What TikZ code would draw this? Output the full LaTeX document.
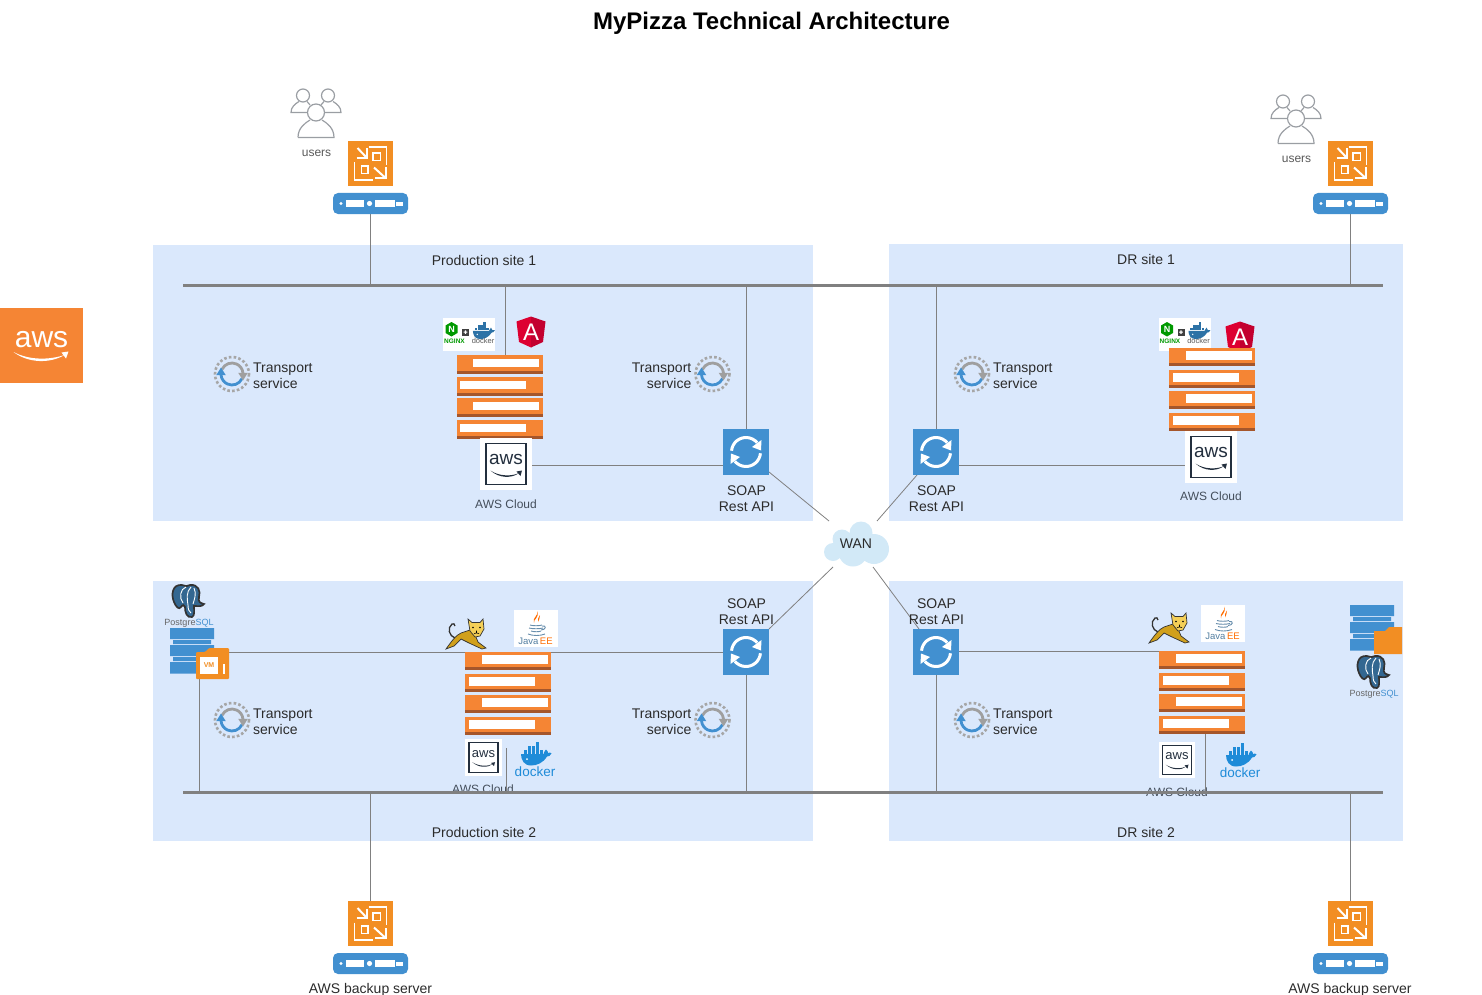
\documentclass[tikz,border=0pt]{standalone}
\usepackage{fontspec}
\setmainfont{Liberation Sans}
\usetikzlibrary{arrows.meta,backgrounds}
\definecolor{panelc}{HTML}{DAE8FC}
\definecolor{linec}{HTML}{808080}
\definecolor{awsor}{HTML}{F58534}
\definecolor{awsdk}{HTML}{A5562B}
\definecolor{boxor}{HTML}{F28E23}
\definecolor{blueic}{HTML}{4290D0}
\definecolor{txt}{HTML}{2B2B2B}
\definecolor{navy}{HTML}{232F3E}
\definecolor{cloudc}{HTML}{D2E9F7}
\definecolor{pgblue}{HTML}{336791}
\definecolor{dockerc}{HTML}{1E8BD8}
\definecolor{usergray}{HTML}{9A9EA3}
\definecolor{ngred}{HTML}{DD0031}
\definecolor{ngdark}{HTML}{C3002F}
\definecolor{catgold}{HTML}{D1A01C}
\definecolor{catface}{HTML}{F4CF57}
\pgfdeclarelayer{panels}
\pgfdeclarelayer{wires}
\pgfsetlayers{panels,wires,main}
\tikzset{
  x=1pt,y=-1pt,
  lbl/.style={font=\fontsize{14}{16}\selectfont,text=txt,align=center,inner sep=0pt},
  smalllbl/.style={font=\fontsize{12}{14}\selectfont,text=navy!85!white,align=center,inner sep=0pt},
  panel/.style={fill=panelc,draw=none},
  wire/.style={draw=linec,line width=1pt},
  bus/.style={draw=linec,line width=3pt},
  iconbox/.style={inner sep=0pt,outer sep=0pt,minimum width=#1,minimum height=#1},
  rfarc/.style={draw=white,line width=3pt},
  whitepen/.style={draw=white,line width=1.2pt},
  whitebold/.style={draw=white,line width=2pt},
  userpen/.style={draw=usergray,line width=1.2pt},
}
% refresh
\newcommand\icRefresh[3]{%
  \node[iconbox=46pt,fill=blueic] (#1) at (#2,#3) {};
  \begin{scope}[shift={(#2,#3)}]
    \draw[rfarc] (185:14.5) arc[start angle=185,end angle=320,radius=14.5];
    \draw[rfarc] (5:14.5) arc[start angle=5,end angle=140,radius=14.5];
    \fill[white] (15.5,-12) -- (15,-1.5) -- (6,-5) -- cycle;
    \fill[white] (-15.5,12) -- (-15,1.5) -- (-6,5) -- cycle;
  \end{scope}}
% transport service ring
\newcommand\icTransport[3]{%
  \node[iconbox=38pt] (#1) at (#2,#3) {};
  \begin{scope}[shift={(#2,#3)}]
    \draw[draw=gray!70,line width=2.6pt,dash pattern=on 2.6pt off 2.2pt] (0,0) circle[radius=17];
    \draw[draw=gray!75,line width=2.8pt] (205:11) arc[start angle=205,end angle=355,radius=11];
    \draw[draw=blueic,line width=2.8pt] (25:11) arc[start angle=25,end angle=175,radius=11];
    \fill[gray!75] (11,6.5) -- (6.2,-1.2) -- (15.8,-1.2) -- cycle;
    \fill[blueic] (-11,-6.5) -- (-6.2,1.2) -- (-15.8,1.2) -- cycle;
  \end{scope}}
% users
\newcommand\icUsers[3]{%
  \node[iconbox=50pt] (#1) at (#2,#3) {};
  \begin{scope}[shift={(#2,#3)}]
    \draw[userpen] (-13,-17.5) circle[radius=6.5];
    \draw[userpen] (12,-17.5) circle[radius=6.5];
    \draw[userpen] (-9,-0.5) -- (-25,-0.5) .. controls (-25,-6) and (-21,-9) .. (-17,-11.5);
    \draw[userpen] (-9,-11.5) .. controls (-8,-10.5) and (-7,-9.5) .. (-6,-8);
    \draw[userpen] (9,-0.5) -- (25,-0.5) .. controls (25,-6) and (21,-9) .. (17,-11.5);
    \draw[userpen] (8,-11.5) .. controls (7,-10.5) and (6,-9.5) .. (5,-8);
    \draw[userpen] (0,-0.5) circle[radius=8.5];
    \draw[userpen] (-18,24.5) -- (18,24.5) .. controls (18,15) and (11,10) .. (6,7);
    \draw[userpen] (-18,24.5) .. controls (-18,15) and (-11,10) .. (-6,7);
  \end{scope}}
% orange storage gateway box
\newcommand\icGate[3]{%
  \node[iconbox=45pt,fill=boxor] (#1) at (#2,#3) {};
  \begin{scope}[shift={(#2,#3)}]
    \draw[whitebold,line width=1.8pt] (2.7,-10.7) rectangle (10,-3);
    \draw[whitebold,line width=1.8pt] (-9,2.7) rectangle (-2.3,10);
    \draw[whitepen] (-2,-16.5) -- (16,-16.5) -- (16,1.5);
    \draw[whitepen] (-16,-1) -- (-16,16.5) -- (2,16.5);
    \draw[whitebold] (-13,-15.5) -- (-4,-6);
    \draw[whitebold] (-14,-5.5) -- (-3.5,-5.5) -- (-3.5,-15);
    \draw[whitebold] (3.5,4) -- (14.5,14);
    \draw[whitebold] (4.5,14.5) -- (15,14.5) -- (15,4);
  \end{scope}}
% blue bar
\newcommand\icBar[3]{%
  \node[inner sep=0pt,outer sep=0pt,minimum width=75pt,minimum height=21pt,fill=blueic,rounded corners=5pt] (#1) at (#2,#3) {};
  \begin{scope}[shift={(#2,#3)}]
    \fill[white] (-29.5,0) circle[radius=1.6];
    \fill[white] (-24.7,-3.3) rectangle (-6.3,3.3);
    \fill[white] (-1,0) circle[radius=2.6];
    \fill[white] (4.7,-3.3) rectangle (24,3.3);
    \fill[white] (25.7,-2) rectangle (32,2);
  \end{scope}}
% server stack
\newcommand\stackrow[2]{%
  \fill[awsor] (-43,#1) rectangle (43,#1+18.5);
  \fill[awsdk] (-43,#1+15.5) rectangle (43,#1+18.5);
  \ifnum#2=1 \fill[white] (-26.5,#1+3.5) rectangle (39.5,#1+12);
  \else \fill[white] (-39.5,#1+3.5) rectangle (26.5,#1+12); \fi}
\newcommand\icStack[3]{%
  \node[inner sep=0pt,outer sep=0pt,minimum width=86pt,minimum height=83pt] (#1) at (#2,#3) {};
  \begin{scope}[shift={(#2,#3)}]
    \stackrow{-42}{1}\stackrow{-20}{2}\stackrow{1}{1}\stackrow{23}{2}
  \end{scope}}
% aws badge: name,x,y,box size,font size,scale
\newcommand\icBadge[6]{%
  \node[iconbox=#4pt,fill=white] (#1) at (#2,#3) {};
  \begin{scope}[shift={(#2,#3)},scale=#6]
    \draw[draw=navy,line width=1.4pt] (-20,-20.5) rectangle (20,20.5);
    \node[inner sep=0pt,text=navy,font=\fontsize{#5}{#5}\selectfont] (#1t) at (0,-5) {aws};
    \fill[navy] (-15.5,6.5) .. controls (-7,14.5) and (6,14.5) .. (13,9) .. controls (6,12.5) and (-7,12.5) .. (-15.5,6.5) -- cycle;
    \fill[navy] (10.5,7.5) -- (16,6.5) -- (14.5,12) -- cycle;
  \end{scope}}
% big aws logo
\newcommand\icAws[3]{%
  \node[inner sep=0pt,outer sep=0pt,minimum width=83pt,minimum height=75pt,fill=awsor] (#1) at (#2,#3) {};
  \node[inner sep=0pt,text=white,font=\fontsize{30}{30}\selectfont] (#1t) at (#2,#3-6) {aws};
  \begin{scope}[shift={(#2,#3)}]
    \fill[white] (-28,6.5) .. controls (-13,18) and (9,18) .. (23,9.5) .. controls (8,14.5) and (-12,15) .. (-28,6.5) -- cycle;
    \fill[white] (20,7) -- (27,6) -- (24.5,13) -- cycle;
  \end{scope}}
% cloud
\newcommand\icCloud[3]{%
  \begin{scope}[shift={(#2,#3)}]
    \fill[cloudc] (5,-11) circle[radius=11.5] (-14,-5) circle[radius=9.5] (-23,8) circle[radius=9] (-3,8) circle[radius=14.5] (18,5) circle[radius=15] (-8,2) circle[radius=12];
  \end{scope}
  \node[lbl,minimum width=44pt,minimum height=46pt,outer sep=0pt] (#1) at (#2,#3) {\raisebox{-2pt}{WAN}};}
% angular
\newcommand\icAngular[3]{%
  \node[inner sep=0pt,outer sep=0pt,minimum width=29pt,minimum height=31pt] (#1) at (#2,#3) {};
  \begin{scope}[shift={(#2,#3)}]
    \fill[ngred] (0,-15.5) -- (-14.5,-10.5) -- (-12,10) -- (0,15.5) -- cycle;
    \fill[ngdark] (0,-15.5) -- (14.5,-10.5) -- (12,10) -- (0,15.5) -- cycle;
  \end{scope}
  \node[inner sep=0pt,text=white,font=\fontsize{24}{24}\selectfont] (#1t) at (#2,#3) {A};}
% docker whale
\newcommand\whale[1]{%
  \fill[#1] (-14,-1) -- (8.5,-1) .. controls (9,-3) and (10,-4.5) .. (11,-5.5) .. controls (12.5,-4.5) and (13,-3) .. (13,-2) .. controls (14,-2.6) and (15.5,-2.6) .. (16.5,-1.7) .. controls (15.5,1) and (13.5,1.5) .. (12,1.5) .. controls (8,8) and (2,10.5) .. (-4,10.5) .. controls (-11,10.5) and (-14,5) .. (-14,-1) -- cycle;
  \foreach \q in {-11.5,-7.5,-3.5,0.5,4.5} {\fill[#1] (\q,-5) rectangle (\q+3.6,-1.5);}
  \foreach \q in {-7.5,-3.5,0.5} {\fill[#1] (\q,-9) rectangle (\q+3.6,-5.5);}
  \fill[#1] (0.5,-13) rectangle (4.1,-9.5);
  \fill[white] (-8,4) circle[radius=1];}
\newcommand\icDocker[3]{%
  \node[inner sep=0pt,outer sep=0pt,minimum width=40pt,minimum height=34pt] (#1) at (#2,#3) {};
  \begin{scope}[shift={(#2,#3-5)}] \whale{dockerc} \end{scope}
  \node[inner sep=0pt,text=dockerc,font=\fontsize{13.5}{13.5}\selectfont] (#1t) at (#2,#3+12) {docker};}
% nginx + docker
\newcommand\icNginx[3]{%
  \node[iconbox=33pt,minimum width=52pt,fill=white] (#1) at (#2,#3) {};
  \begin{scope}[shift={(#2,#3)}]
    \fill[green!60!black] (-17.5,-12.5) -- (-11.5,-9) -- (-11.5,-1.5) -- (-17.5,2) -- (-23.5,-1.5) -- (-23.5,-9) -- cycle;
    \fill[black!75] (-7,-6) rectangle (0,1);
    \fill[white] (-5.3,-3) rectangle (-1.7,-1.8) (-4.1,-4.2) rectangle (-2.9,-0.6);
    \begin{scope}[shift={(14,-3)},scale=0.72] \whale{pgblue!70!dockerc} \end{scope}
  \end{scope}
  \node[inner sep=0pt,text=white,font=\fontsize{9}{9}\bfseries\selectfont] (#1n) at (#2-17.5,#3-5.3) {N};
  \node[inner sep=0pt,text=green!60!black,font=\fontsize{6.5}{6.5}\bfseries\selectfont] (#1g) at (#2-14.5,#3+6.5) {NGINX};
  \node[inner sep=0pt,text=black!65,font=\fontsize{7.5}{7.5}\selectfont] (#1d) at (#2+14,#3+6.5) {docker};}
% java ee
\newcommand\icJava[3]{%
  \node[inner sep=0pt,outer sep=0pt,minimum width=44pt,minimum height=37pt,fill=white] (#1) at (#2,#3) {};
  \begin{scope}[shift={(#2,#3)}]
    \fill[orange!85!red] (1,-17) .. controls (3,-12) and (-4,-11) .. (-2,-5) .. controls (-3,-9) and (4,-10) .. (1,-17) -- cycle;
    \fill[orange!85!red] (4,-13) .. controls (3,-11) and (1,-9) .. (2,-6) .. controls (2,-8) and (5,-10) .. (4,-13) -- cycle;
    \draw[draw=pgblue!75,line width=0.9pt] (-6,-3) .. controls (-3,-2) and (3,-2) .. (6,-3);
    \draw[draw=pgblue!75,line width=0.9pt] (-7,0) .. controls (-3,1) and (3,1) .. (7,0);
    \draw[draw=pgblue!75,line width=0.9pt] (-5,3) .. controls (-2,4) and (3,4) .. (5,3);
    \draw[draw=pgblue!75,line width=0.9pt] (-8,6) .. controls (-3,8) and (4,8) .. (9,6);
    \draw[draw=pgblue!75,line width=0.9pt] (6,-2) .. controls (11,-3) and (10,2) .. (5,2);
  \end{scope}
  \node[inner sep=0pt,font=\fontsize{9.5}{9.5}\selectfont] (#1t) at (#2-0.5,#3+13) {\textcolor{pgblue!85}{Java}\,\textcolor{orange!85!red}{EE}};}
% tomcat
\newcommand\icTomcat[3]{%
  \node[inner sep=0pt,outer sep=0pt,minimum width=42pt,minimum height=32pt] (#1) at (#2,#3) {};
  \begin{scope}[shift={(#2,#3)}]
    \draw[black!80,line width=1.3pt] (-11,4) .. controls (-17,2) and (-19,-6) .. (-14,-10) .. controls (-13,-11) and (-11,-10) .. (-11,-8);
    \draw[black!80,line width=.7pt,fill=catgold] (4,-4) -- (-5,-1) .. controls (-10,1) and (-15,8) .. (-20,15) -- (-12,12) -- (-5,5) -- (3,9) -- (16,15) -- (20,14) -- (12,8) -- (10,3) -- cycle;
    \draw[black!80,line width=.7pt,fill=catface] (2,-15) -- (6,-11.5) -- (14,-11.5) -- (17,-15) -- (18,-5) -- (14,2) -- (9,3) -- (4,-3) -- cycle;
    \fill[black] (7,-6.5) circle[radius=.9] (14,-6.5) circle[radius=.9];
    \draw[black,line width=.6pt] (10.5,-3.5) -- (10.5,-1) (8,-.5) -- (10.5,-1) -- (13,-.5);
  \end{scope}}
% postgres
\newcommand\icPg[3]{%
  \node[inner sep=0pt,outer sep=0pt,minimum width=34pt,minimum height=34pt] (#1) at (#2,#3) {};
  \begin{scope}[shift={(#2,#3)}]
    \draw[draw=black!80,line width=1.7pt,fill=pgblue] (-6,-16) .. controls (-16,-17) and (-17,-6) .. (-14,1) .. controls (-12,6) and (-9,9) .. (-7,6) .. controls (-5,3) and (-4,4) .. (-3,6) .. controls (-3,12) and (-1,17) .. (4,16) .. controls (7,15) and (6,9) .. (6,5) .. controls (10,5) and (14,6) .. (16,3) .. controls (12,2) and (10,1) .. (11,-4) .. controls (13,-10) and (10,-17) .. (2,-16) .. controls (0,-14) and (-3,-15) .. (-6,-16) -- cycle;
    \draw[draw=white,line width=.9pt] (-2,-14) .. controls (-8,-12) and (-9,-3) .. (-5,2);
    \draw[draw=white,line width=.9pt] (3,-14) .. controls (-2,-9) and (-1,-2) .. (0,4) .. controls (0,8) and (1,11) .. (3,12);
    \draw[draw=white,line width=.9pt] (6,-13) .. controls (9,-7) and (6,-1) .. (5,3);
  \end{scope}
  \node[inner sep=0pt,font=\fontsize{9}{9}\selectfont] (#1t) at (#2+1,#3+22) {\textcolor{black!60}{Postgre}\textcolor{blueic}{SQL}};}
% database rows
\newcommand\dbrows[2]{%
  \begin{scope}[shift={(#1,#2)}]
    \fill[blueic] (0,0) rectangle (44,11) (3,12) rectangle (41,16) (0,17) rectangle (44,28) (3,29) rectangle (41,33) (0,34) rectangle (44,45.5);
  \end{scope}}
\begin{document}
\begin{tikzpicture}
\useasboundingbox (0,0) rectangle (1482,995);
\node[inner sep=0pt,font=\fontsize{24}{28}\bfseries\selectfont,text=black] (title) at (771.5,23.5) {MyPizza Technical Architecture};

\begin{pgfonlayer}{panels}
  \fill[panel] (153,245) rectangle (813,521);
  \fill[panel] (889,244) rectangle (1403,521);
  \fill[panel] (153,581) rectangle (813,841);
  \fill[panel] (889,581) rectangle (1403,841);
\end{pgfonlayer}

\node[lbl] (lab1) at (484,260) {Production site 1};
\node[lbl] (lab2) at (1146,259) {DR site 1};
\node[lbl] (lab3) at (484,832) {Production site 2};
\node[lbl] (lab4) at (1146,832) {DR site 2};

\icAws{awsmain}{41.5}{345.5}

% top edge
\icUsers{usersA}{316}{113}
\node[smalllbl,text=black!65] (usersAl) at (316.5,153) {users};
\icGate{gateA}{370.5}{163.5}
\icBar{barA}{370.5}{203.5}
\icUsers{usersB}{1296}{119}
\node[smalllbl,text=black!65] (usersBl) at (1296.5,159) {users};
\icGate{gateB}{1350.5}{163.5}
\icBar{barB}{1350.5}{203.5}
% bottom edge
\icGate{gateC}{370.5}{923.5}
\icBar{barC}{370.5}{963.5}
\node[lbl] (backupA) at (370.5,990) {AWS backup server};
\icGate{gateD}{1350.5}{923.5}
\icBar{barD}{1350.5}{963.5}
\node[lbl] (backupB) at (1350,990) {AWS backup server};

% bus ends
\coordinate (busTa) at (183,285);
\coordinate (busTb) at (1383,285);
\coordinate (busBa) at (183,792);
\coordinate (busBb) at (1383,792);

% production 1
\icNginx{ngA}{469}{334.5}
\icAngular{ngrA}{531}{332}
\icStack{stA}{499.5}{397}
\icBadge{awsA}{506}{464}{52}{19}{1}
\node[smalllbl] (awsAl) at (506,504) {AWS Cloud};
\icRefresh{rfA}{746}{452}
\node[lbl] (soapA) at (746.5,499) {SOAP\\Rest API};
\icTransport{tpA}{232}{374}
\node[lbl,anchor=west,align=left] (tpAl) at (253,376) {Transport\\service};
\icTransport{tpB}{712.5}{374}
\node[lbl,anchor=east,align=right] (tpBl) at (691.5,376) {Transport\\service};

% DR 1
\icNginx{ngB}{1184.5}{334.5}
\icAngular{ngrB}{1240}{337}
\icStack{stB}{1212}{389.5}
\icBadge{awsB}{1211}{457}{52}{19}{1}
\node[smalllbl] (awsBl) at (1211,496) {AWS Cloud};
\icRefresh{rfB}{936}{452}
\node[lbl] (soapB) at (936.5,499) {SOAP\\Rest API};
\icTransport{tpC}{972}{374}
\node[lbl,anchor=west,align=left] (tpCl) at (993,376) {Transport\\service};

% production 2
\icPg{pgA}{188}{601}
\dbrows{170}{628}
\node[inner sep=0pt,outer sep=0pt,minimum width=33pt,minimum height=31pt] (vmA) at (212.5,663.5) {};
\fill[boxor,rounded corners=1pt] (196,652) -- (205,652) -- (209,648) -- (229,648) -- (229,679) -- (196,679) -- cycle;
\node[inner sep=0pt,outer sep=0pt,minimum width=18pt,minimum height=17pt,fill=white,text=boxor,font=\fontsize{7}{7}\bfseries\selectfont] (vmAt) at (209,665.5) {VM};
\fill[white] (222.5,664) rectangle (224.5,674);
\icJava{jvA}{536}{628}
\icTomcat{tcA}{466}{634}
\icStack{stC}{508}{693.5}
\icBadge{awsC}{483.5}{757.5}{37}{13}{0.72}
\icDocker{dkA}{535}{760}
\icRefresh{rfC}{746}{652}
\node[lbl] (soapC) at (746.5,612) {SOAP\\Rest API};
\icTransport{tpD}{232}{720}
\node[lbl,anchor=west,align=left] (tpDl) at (253,722) {Transport\\service};
\icTransport{tpE}{712.5}{720}
\node[lbl,anchor=east,align=right] (tpEl) at (691.5,722) {Transport\\service};

% DR 2
\dbrows{1350}{605}
\fill[boxor] (1374,631) -- (1385,631) -- (1389,627) -- (1402,627) -- (1402,654) -- (1374,654) -- cycle;
\icPg{pgB}{1373}{672}
\icJava{jvB}{1223}{623.5}
\icTomcat{tcB}{1169}{628}
\icStack{stD}{1202}{692.5}
\icBadge{awsD}{1177}{760}{36}{13}{0.72}
\icDocker{dkB}{1240}{761}
\icRefresh{rfD}{936}{652}
\node[lbl] (soapD) at (936.5,612) {SOAP\\Rest API};
\icTransport{tpF}{972}{720}
\node[lbl,anchor=west,align=left] (tpFl) at (993,722) {Transport\\service};

% WAN
\icCloud{wan}{856}{544}

\begin{pgfonlayer}{wires}
  \node[smalllbl] (awsCl) at (483,789) {AWS Cloud};
  \node[smalllbl] (awsDl) at (1177,792.5) {AWS Cloud};
  \draw[wire] (barA.south) -- (barA.south |- busTa);
  \draw[wire] (barB.south) -- (barB.south |- busTa);
  \draw[wire] (gateC.north) -- (gateC.north |- busBa);
  \draw[wire] (gateD.north) -- (gateD.north |- busBa);
  \draw[wire] ([xshift=5.5pt]stA.north) -- ([xshift=5.5pt]stA.north |- busTa);
  \draw[wire] (rfA.north) -- (rfA.north |- busTa);
  \draw[wire] (rfB.north) -- (rfB.north |- busTa);
  \draw[wire] (rfC.south) -- (rfC.south |- busBa);
  \draw[wire] (rfD.south) -- (rfD.south |- busBa);
  \draw[wire] (awsA.east |- 0,465) -- (rfA.west |- 0,465);
  \draw[wire] (awsB.east |- 0,465) -- (rfB.east |- 0,465);
  \draw[wire] (rfC.west) -- (rfC.west -| vmA.east);
  \draw[wire] ([yshift=1pt]rfD.east) -- ([yshift=1pt]rfD.east -| stD.west);
  \draw[wire] ([xshift=-13.5pt]vmA.south) -- ([xshift=-13.5pt]vmA.south |- busBa);
  \draw[wire] ([xshift=-2pt,yshift=-13pt]stC.south) -- ([xshift=-2pt]stC.south |- busBa);
  \draw[wire] ([xshift=3.5pt]stD.south) -- ([xshift=3.5pt]stD.south |- busBa);
  \draw[wire,line width=.8pt] ([yshift=3pt]rfA.south east) -- ([xshift=-5pt]wan.north west);
  \draw[wire,line width=.8pt] ([xshift=4pt]rfB.south west) -- ([xshift=-1pt]wan.north east);
  \draw[wire,line width=.8pt] (rfC.north east) -- ([xshift=-1pt]wan.south west);
  \draw[wire,line width=.8pt] ([xshift=6pt]rfD.north west) -- ([xshift=-5pt]wan.south east);
  \draw[bus] (busTa) -- (busTb);
  \draw[bus] (busBa) -- (busBb);
\end{pgfonlayer}
\end{tikzpicture}
\end{document}
